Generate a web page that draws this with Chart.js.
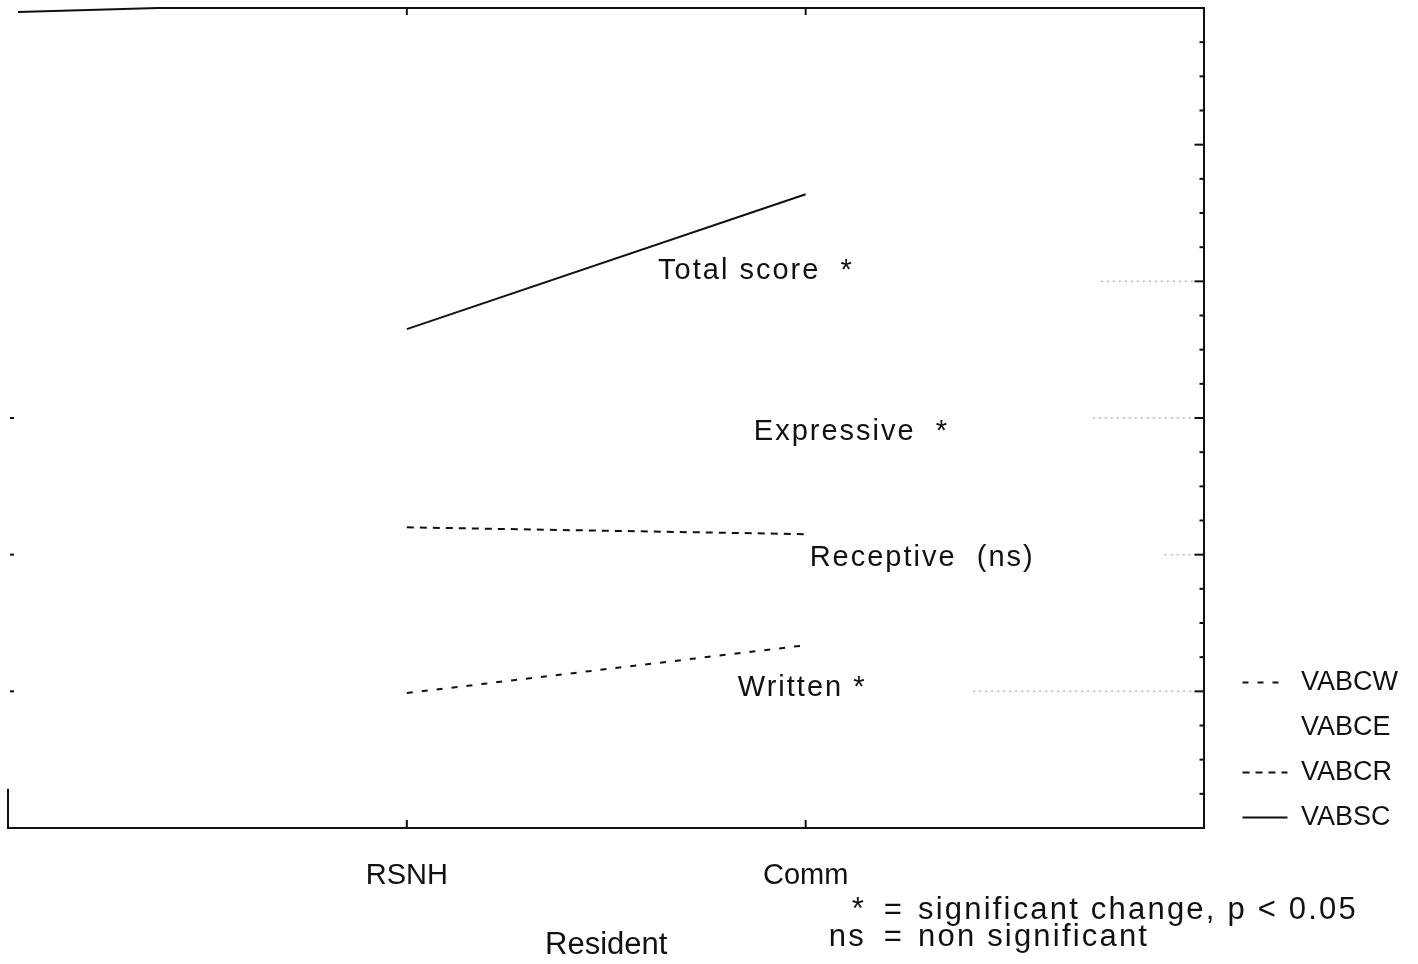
<!DOCTYPE html>
<html>
<head>
<meta charset="utf-8">
<script src="https://cdn.jsdelivr.net/npm/chart.js@4.4.0/dist/chart.umd.min.js"></script>
<style>
    html, body { margin: 0; padding: 0; background: #fff; }
    #wrap { width: 1418px; height: 964px; }
</style>
</head>
<body>
<div id="wrap"><canvas id="vabChart"></canvas></div>
<script>
// Scores per residence (y axis in minor-tick units, 0..24)
const categories = ["RSNH", "Comm"];
const writtenScores = [3.95, 5.35];
const expressiveScores = [null, null]; // not drawn in the original
const receptiveScores = [8.8, 8.6];
const totalScores = [14.6, 18.55];
const seriesNames = ["VABCW", "VABCE", "VABCR", "VABSC"];

// In-plot labels and where they sit (x in category units, y in score units)
const noteTexts = ["Total score  *", "Expressive  *", "Receptive  (ns)", "Written *"];
const noteX = [1.63, 1.87, 2.01, 1.83];
const noteY = [16.3, 11.6, 7.9, 4.1];

// faint dotted leaders running into the right axis
const leaderLevels = [16, 12, 8, 4];
const leaderStart = [2.74, 2.72, 2.9, 2.42];

const ink = "#111";
const fontFamily = "'Liberation Sans', Arial, sans-serif";
const legendDrop = 21;

function toPoints(values) {
    return values.map((v, i) => ({ x: i + 1, y: v }));
}

// Frame, inward ticks, labels and footnote
const plotExtras = {
    id: "plotExtras",
    afterLayout(chart) {
        // push the legend column down to line up with the bottom of the plot
        chart.legend.top += legendDrop;
        chart.legend.bottom += legendDrop;
    },
    afterDraw(chart) {
        const { ctx, chartArea: area, scales } = chart;
        const x = scales.x;
        const y = scales.y;
        ctx.save();

        // leaders
        ctx.strokeStyle = "#b5b5b5";
        ctx.lineWidth = 1.5;
        ctx.setLineDash([2, 4]);
        leaderLevels.forEach((lv, i) => {
            const py = y.getPixelForValue(lv);
            ctx.beginPath();
            ctx.moveTo(x.getPixelForValue(leaderStart[i]), py);
            ctx.lineTo(area.right - 8, py);
            ctx.stroke();
        });

        ctx.strokeStyle = ink;
        ctx.lineWidth = 2;
        ctx.setLineDash([]);

        // top border and short left stub
        ctx.beginPath();
        ctx.moveTo(area.left + 10, area.top + 4);
        ctx.lineTo(area.left + 150, area.top);
        ctx.lineTo(area.right, area.top);
        ctx.moveTo(area.left, area.bottom);
        ctx.lineTo(area.left, y.getPixelForValue(1.15));
        ctx.stroke();

        // category ticks, pointing inwards
        [1, 2].forEach((v) => {
            const px = x.getPixelForValue(v);
            ctx.beginPath();
            ctx.moveTo(px, area.bottom);
            ctx.lineTo(px, area.bottom - 8);
            ctx.moveTo(px, area.top);
            ctx.lineTo(px, area.top + 7);
            ctx.stroke();
        });

        // right axis ticks
        for (let v = 1; v < 24; v++) {
            const py = y.getPixelForValue(v);
            const len = v % 4 === 0 ? 10 : 5;
            ctx.beginPath();
            ctx.moveTo(area.right, py);
            ctx.lineTo(area.right - len, py);
            ctx.stroke();
        }
        // left axis ticks (faint in the scan)
        [4, 8, 12].forEach((v) => {
            const py = y.getPixelForValue(v);
            ctx.beginPath();
            ctx.moveTo(area.left + 2, py);
            ctx.lineTo(area.left + 6, py);
            ctx.stroke();
        });

        // series labels
        ctx.fillStyle = ink;
        ctx.font = "29px " + fontFamily;
        ctx.textBaseline = "middle";
        ctx.textAlign = "left";
        if ("letterSpacing" in ctx) ctx.letterSpacing = "2px";
        noteTexts.forEach((t, i) => {
            ctx.fillText(t, x.getPixelForValue(noteX[i]), y.getPixelForValue(noteY[i]));
        });

        // footnote
        ctx.font = "31px " + fontFamily;
        if ("letterSpacing" in ctx) ctx.letterSpacing = "2.2px";
        const rows = [["*", "significant change, p < 0.05", 910], ["ns", "non significant", 937]];
        rows.forEach(([sym, text, py]) => {
            ctx.textAlign = "right";
            ctx.fillText(sym, 866, py);
            ctx.textAlign = "center";
            ctx.fillText("=", 894, py);
            ctx.textAlign = "left";
            ctx.fillText(text, 918, py);
        });
        ctx.restore();
    },
};

new Chart(document.getElementById("vabChart"), {
    type: "line",
    data: {
        datasets: [
            {
                label: seriesNames[0],
                data: toPoints(writtenScores),
                borderColor: ink,
                borderWidth: 2,
                borderDash: [6, 9],
                pointStyle: "line",
            },
            {
                label: seriesNames[1],
                data: toPoints(expressiveScores),
                borderColor: "rgba(0,0,0,0)",
                borderWidth: 2,
                pointStyle: "line",
            },
            {
                label: seriesNames[2],
                data: toPoints(receptiveScores),
                borderColor: ink,
                borderWidth: 2,
                borderDash: [7, 6],
                pointStyle: "line",
            },
            {
                label: seriesNames[3],
                data: toPoints(totalScores),
                borderColor: ink,
                borderWidth: 2,
                pointStyle: "line",
            },
        ],
    },
    options: {
        responsive: true,
        maintainAspectRatio: false,
        animation: false,
        layout: {
            padding: { top: 8, left: 8, right: 10, bottom: 0 },
        },
        elements: {
            point: { radius: 0, hoverRadius: 0 },
            line: { tension: 0 },
        },
        plugins: {
            legend: {
                position: "right",
                align: "end",
                fullSize: false,
                labels: {
                    usePointStyle: true,
                    pointStyleWidth: 45,
                    padding: 18,
                    color: ink,
                    font: { family: fontFamily, size: 27 },
                    generateLabels: (chart) => {
                        const items = Chart.defaults.plugins.legend.labels.generateLabels(chart);
                        items.forEach((item) => {
                            const ds = chart.data.datasets[item.datasetIndex];
                            item.lineDash = ds.borderDash || [];
                            item.lineWidth = ds.borderWidth;
                            item.strokeStyle = ds.borderColor;
                        });
                        return items;
                    },
                },
            },
            tooltip: { enabled: false },
        },
        scales: {
            x: {
                type: "linear",
                min: 0,
                max: 3,
                afterBuildTicks: (axis) => {
                    axis.ticks = categories.map((c, i) => ({ value: i + 1 }));
                },
                grid: { display: false },
                border: { display: true, color: ink, width: 2 },
                ticks: {
                    padding: 23,
                    color: ink,
                    font: { family: fontFamily, size: 29 },
                    callback: (v) => categories[v - 1] || "",
                },
                title: {
                    display: true,
                    text: "Resident",
                    color: ink,
                    font: { family: fontFamily, size: 31 },
                    padding: { top: 10, bottom: 0 },
                },
            },
            y: {
                position: "right",
                min: 0,
                max: 24,
                grid: { display: false },
                border: { display: true, color: ink, width: 2 },
                ticks: { display: false, stepSize: 1 },
                afterFit: (axis) => {
                    axis.width += 12;
                },
            },
        },
    },
    plugins: [plotExtras],
});
</script>
</body>
</html>
